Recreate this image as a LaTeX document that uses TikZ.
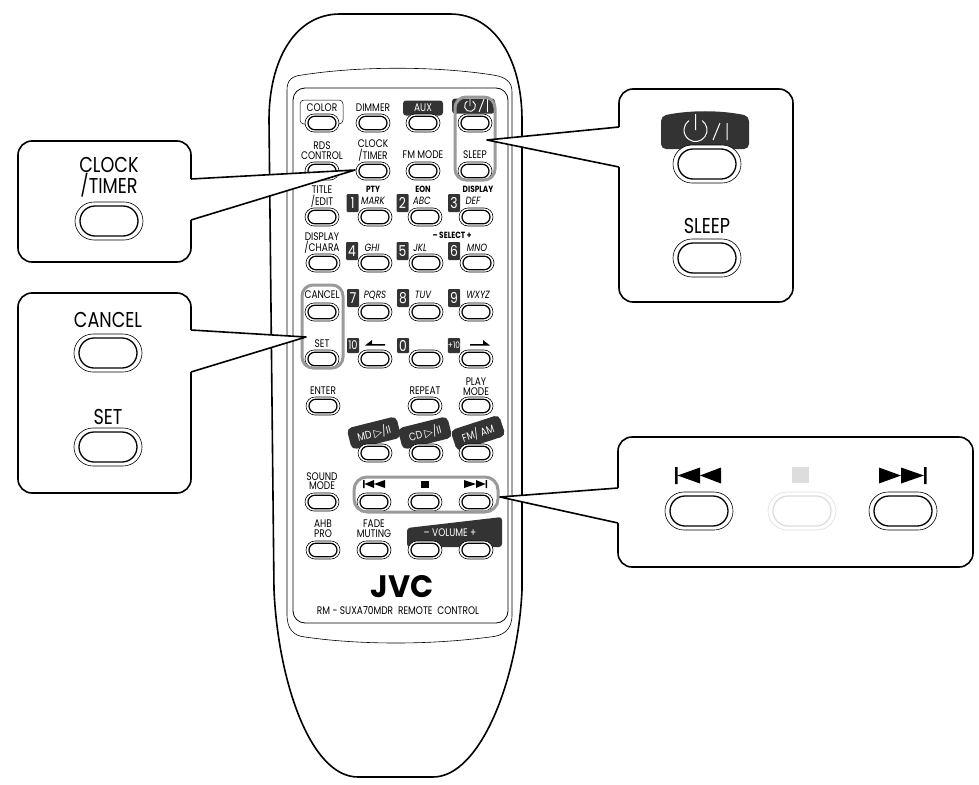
\documentclass[tikz,border=0pt]{standalone}
\usepackage{fontspec}
\setmainfont{Poppins}[FakeStretch=0.82]
\newfontfamily\symfont{DejaVu Sans}
\newfontfamily\logofont{Poppins}[FakeStretch=0.98]
\usepackage{xcolor}
\usetikzlibrary{calc, positioning, shapes.misc}
\definecolor{darkkey}{HTML}{333333}
\definecolor{hilite}{HTML}{9A9A9A}
\definecolor{fadekey}{HTML}{DDDDDD}
\tikzset{
  keyout/.style={rounded rectangle, draw, line width=0.6pt, fill=white, minimum width=34pt, minimum height=18pt, inner sep=0pt},
  keyin/.style={rounded rectangle, draw, line width=1.2pt, minimum width=28pt, minimum height=13.5pt, inner sep=0pt},
  bigout/.style={rounded rectangle, draw, line width=0.6pt, fill=white, minimum width=68pt, minimum height=38pt, inner sep=0pt},
  bigin/.style={rounded rectangle, draw, line width=1.3pt, minimum width=58pt, minimum height=30pt, inner sep=0pt},
  lbl/.style={inner sep=0pt, align=center, font=\fontsize{11}{9.5}\selectfont},
  biglbl/.style={inner sep=0pt, align=center, font=\fontsize{21.5}{20}\selectfont},
  badge/.style={fill=darkkey, text=white, rounded corners=1pt, inner sep=0pt, minimum width=12pt, minimum height=18pt, font=\fontsize{15}{15}\selectfont},
  slanted/.style={fill=darkkey, text=white, rounded corners=5pt, inner sep=0pt, minimum width=51pt, minimum height=22pt},
  panel/.style={draw, line width=1.6pt, fill=white, rounded corners=14pt, inner sep=0pt},
  ring/.style={draw=hilite, line width=3pt, rounded corners=11pt, inner sep=0pt}
}
\begin{document}
\begin{tikzpicture}[x=1pt, y=-1pt]
    \useasboundingbox (0,0) rectangle (979,784);

    % Remote body
    \draw[line width=1.6pt] (340,14) -- (450,14) .. controls (495,14) and (522,60) .. (522,120)
        -- (522,590) .. controls (518,680) and (480,777) .. (433,777) -- (358,777)
        .. controls (310,777) and (278,680) .. (274,590) -- (269,120)
        .. controls (269,60) and (295,14) .. (340,14) -- cycle;
    \draw[line width=0.6pt] (287,90) .. controls (287,80) and (292,76) .. (302,75)
        .. controls (360,66) and (435,66) .. (493,75) .. controls (506,77) and (512,82) .. (512,92)
        -- (512,615) .. controls (512,630) and (503,636) .. (490,637)
        .. controls (430,645) and (360,645) .. (305,637) .. controls (293,636) and (287,628) .. (287,615) -- cycle;
    \draw[line width=0.8pt, rounded corners=12pt] (293,88) rectangle (508,623);

    % Dark key plates
    \node[draw, line width=0.5pt, rounded corners=4pt, minimum width=43pt, minimum height=24pt, inner sep=0pt] (colorframe) at (321.5,112) {};
    \node[fill=darkkey, rounded corners=3pt, minimum width=40pt, minimum height=15pt, inner sep=0pt] (auxplate) at (423,108) {};
    \node[fill=darkkey, rounded corners=3pt, minimum width=43pt, minimum height=15pt, inner sep=0pt] (powerplate) at (473.5,106) {};
    \node[slanted, rotate=14] (mdplate) at (374,433) {};
    \node[slanted, rotate=14] (cdplate) at (425,433) {};
    \node[slanted, rotate=18] (fmplate) at (478,433) {};
    \fill[darkkey, rounded corners=3pt] (407,528) -- (502,517) -- (502,547) -- (407,547) -- cycle;

    % Remote keys
    \foreach \n/\x/\y in {color/322/123, dimmer/373/123, aux/423/123, power/475/123,
        rds/322/171, clock/373/171, fmmode/423/171, sleep/475/171,
        title/322/217, mark/375/217, abc/425/217, def/476/217,
        chara/323/263, ghi/375/263, jkl/426/263, mno/477/263,
        cancel/322/312, pqrs/375/312, tuv/426/312, wxyz/476/312,
        set/322/359, back/375/359, zero/426/359, fwd/476/359,
        enter/323/406, repeat/425/406, play/476/406,
        md/375/453, cd/426/453, fm/476/453,
        sound/322/502, prev/374/502, stop/425/502, next/476/502,
        ahb/323/550, fade/374/550, voldown/425/550, volup/476/550}{
        \node[keyout] (\n) at (\x,\y) {};
        \node[keyin] (\n in) at (\n) {};
    }

    % Remote labels
    \foreach \n/\x/\y/\t in {tcolor/322/108/COLOR, tdimmer/373/108/DIMMER,
        trds/322/150.5/{RDS\\CONTROL}, tclock/373/150.5/{CLOCK\\/TIMER}, tfm/423/155/FM MODE, tsleep/475/155/SLEEP,
        ttitle/322/196.5/{TITLE\\/EDIT}, tdisp/322/243/{DISPLAY\\/CHARA}, tcancel/322/295/CANCEL, tset/322/344/SET,
        tenter/323/391/ENTER, trepeat/425/391/REPEAT, tplay/476/386.5/{PLAY\\MODE},
        tsound/322/481/{SOUND\\MODE}, tahb/323/528.5/{AHB\\PRO}, tfade/374/528.5/{FADE\\MUTING}}{
        \node[lbl] (\n) at (\x,\y) {\t};
    }
    \foreach \n/\x/\y/\t in {tmark/373/201/MARK, tabc/422/201/ABC, tdef/473/201/DEF,
        tghi/372/248/GHI, tjkl/420/248/JKL, tmno/477/248/MNO,
        tpqrs/375/295/PQRS, ttuv/423/295/TUV, twxyz/478/295/WXYZ}{
        \node[lbl, font=\fontsize{10.5}{10.5}\selectfont\itshape] (\n) at (\x,\y) {\t};
    }
    \foreach \n/\x/\y/\t in {tpty/373/189/PTY, teon/423/189/EON, tdsp/478/189/DISPLAY, tselect/452/235/{-- SELECT +}}{
        \node[lbl, font=\fontsize{9}{9}\selectfont\bfseries] (\n) at (\x,\y) {\t};
    }
    \foreach \n/\x/\y/\t in {one/352.5/203/1, two/402.5/203/2, three/454/203/3,
        four/352/251/4, five/402.5/251/5, six/454/251/6,
        seven/353/298/7, eight/403/298/8, nine/454/298/9}{
        \node[badge] (\n) at (\x,\y) {\t};
    }
    \node[badge, minimum height=15pt, font=\fontsize{12}{12}\selectfont] (ten) at (353,345.5) {10};
    \node[badge, minimum height=15pt] (nought) at (403,345.5) {0};
    \node[badge, minimum height=15pt, font=\fontsize{9}{9}\selectfont] (plusten) at (454,345.5) {+10};
    \fill (365,345.5) -- (372,340) -- (372,344) -- (385,344) -- (385,345.5) -- cycle;
    \fill (490,345.5) -- (483,340) -- (483,344) -- (470,344) -- (470,345.5) -- cycle;

    \node[lbl, text=white] (taux) at (423,108) {AUX};
    \node[lbl, text=white, rotate=14, font=\fontsize{11}{11}\selectfont] (tmd) at (mdplate) {MD {\symfont ▷}/II};
    \node[lbl, text=white, rotate=14, font=\fontsize{11}{11}\selectfont] (tcd) at (cdplate) {CD {\symfont ▷}/II};
    \node[lbl, text=white, rotate=18, font=\fontsize{11}{11}\selectfont] (tfmam) at (fmplate) {FM/ AM};
    \node[lbl, text=white] (tvol) at (450,533) {-- VOLUME +};
    \draw[white, line width=0.9pt] (472.75,101.2) arc[start angle=60, end angle=-240, radius=5.5pt];
    \draw[white, line width=0.9pt] (470,99) -- (470,106) (479,112) -- (484,99) (487.5,99) -- (487.5,112);

    % Track marks on the remote
    \fill (363,480) rectangle (364.5,488) (364.5,484) -- (374,480) -- (374,488) -- cycle (374,484) -- (385,480) -- (385,488) -- cycle;
    \fill (421,481) rectangle (428.5,487.5);
    \fill (485.5,480) rectangle (487,488) (485.5,484) -- (476,480) -- (476,488) -- cycle (476,484) -- (464,480) -- (464,488) -- cycle;

    % Logo and model line
    \node[inner sep=0pt, font=\fontsize{31}{31}\logofont\bfseries] (logo) at (402,587) {JVC};
    \node[lbl, font=\fontsize{11}{11}\selectfont] (model) at (398,610) {RM - SUXA70MDR\ \ REMOTE\ \ CONTROL};

    % Highlight rings
    \node[ring, minimum width=40pt, minimum height=83pt] (sleepring) at (475,138.5) {};
    \node[ring, minimum width=41pt, minimum height=83pt] (cancelring) at (322.5,326.5) {};
    \node[ring, minimum width=144pt, minimum height=35pt, rounded corners=13pt] (trackring) at (426,494.5) {};

    % Pointer ends
    \coordinate (clocktip) at (355,170);
    \coordinate (canceltip) at (306,337);
    \coordinate (sleeptip) at (487,140);
    \coordinate (tracktip) at (500,497);
    \coordinate (clocka) at (191,179);
    \coordinate (clockb) at (191,220);
    \coordinate (cancela) at (191,330);
    \coordinate (cancelb) at (191,372);
    \coordinate (sleepa) at (619,127);
    \coordinate (sleepb) at (619,167);
    \coordinate (tracka) at (618,488);
    \coordinate (trackb) at (618,523);

    % Callout panels
    \node[panel, minimum width=173pt, minimum height=121pt] (clockpanel) at (104.5,201.5) {};
    \node[panel, minimum width=173pt, minimum height=200pt] (cancelpanel) at (104.5,393) {};
    \node[panel, minimum width=174pt, minimum height=213pt] (sleeppanel) at (706,195.5) {};
    \node[panel, minimum width=355pt, minimum height=130pt] (trackpanel) at (795.5,502) {};
    \fill[white] (clocka) -- (clocktip) -- (clockb) -- ++(-2,0) -- ($(clocka)+(-2,0)$) -- cycle;
    \fill[white] (cancela) -- (canceltip) -- (cancelb) -- ++(-2,0) -- ($(cancela)+(-2,0)$) -- cycle;
    \fill[white] (sleepa) -- (sleeptip) -- (sleepb) -- ++(2,0) -- ($(sleepa)+(2,0)$) -- cycle;
    \fill[white] (tracka) -- (tracktip) -- (trackb) -- ++(2,0) -- ($(tracka)+(2,0)$) -- cycle;
    \draw[line width=1.6pt, line join=round] (clocka) -- (clocktip) -- (clockb);
    \draw[line width=1.6pt, line join=round] (cancela) -- (canceltip) -- (cancelb);
    \draw[line width=1.6pt, line join=round] (sleepa) -- (sleeptip) -- (sleepb);
    \draw[line width=1.6pt, line join=round] (tracka) -- (tracktip) -- (trackb);

    % Panel contents
    \node[biglbl] (clockname) at (109,177) {CLOCK\\/TIMER};
    \node[bigout] (clockkey) at (109,221) {};
    \node[bigin] (clockkeyin) at (clockkey) {};
    \node[biglbl] (cancelname) at (108,320) {CANCEL};
    \node[bigout] (cancelkey) at (108,353) {};
    \node[bigin] (cancelkeyin) at (cancelkey) {};
    \node[biglbl] (setname) at (108,417) {SET};
    \node[bigout] (setkey) at (108,447) {};
    \node[bigin] (setkeyin) at (setkey) {};

    \fill[darkkey, rounded corners=5pt] (661,149) -- (661,116) .. controls (690,110) and (720,110) .. (749,116) -- (749,149) -- cycle;
    \draw[white, line width=1pt] (702.1,120.6) arc[start angle=55, end angle=-235, radius=11.5pt];
    \draw[white, line width=1pt] (695.5,114) -- (695.5,130) (713,140) -- (720,123) (727,123) -- (727,140);
    \node[bigout] (powerkey) at (707,164) {};
    \node[bigin] (powerkeyin) at (powerkey) {};
    \node[biglbl] (sleepname) at (707,226) {SLEEP};
    \node[bigout] (sleepkey) at (707,258) {};
    \node[bigin] (sleepkeyin) at (sleepkey) {};

    \fill (675,467) rectangle (677.5,484) (677.5,475.5) -- (700,467.5) -- (700,483.5) -- cycle (700,475.5) -- (721,467.5) -- (721,483.5) -- cycle;
    \fill[fadekey] (792,467) rectangle (809,483);
    \fill (924,467) rectangle (926.5,484) (924,475.5) -- (901,467.5) -- (901,483.5) -- cycle (901,475.5) -- (879,467.5) -- (879,483.5) -- cycle;
    \node[bigout] (prevkey) at (699,511) {};
    \node[bigin] (prevkeyin) at (prevkey) {};
    \node[bigout, draw=fadekey] (stopkey) at (802,511) {};
    \node[bigin, draw=fadekey] (stopkeyin) at (stopkey) {};
    \node[bigout] (nextkey) at (903,511) {};
    \node[bigin] (nextkeyin) at (nextkey) {};
\end{tikzpicture}
\end{document}
